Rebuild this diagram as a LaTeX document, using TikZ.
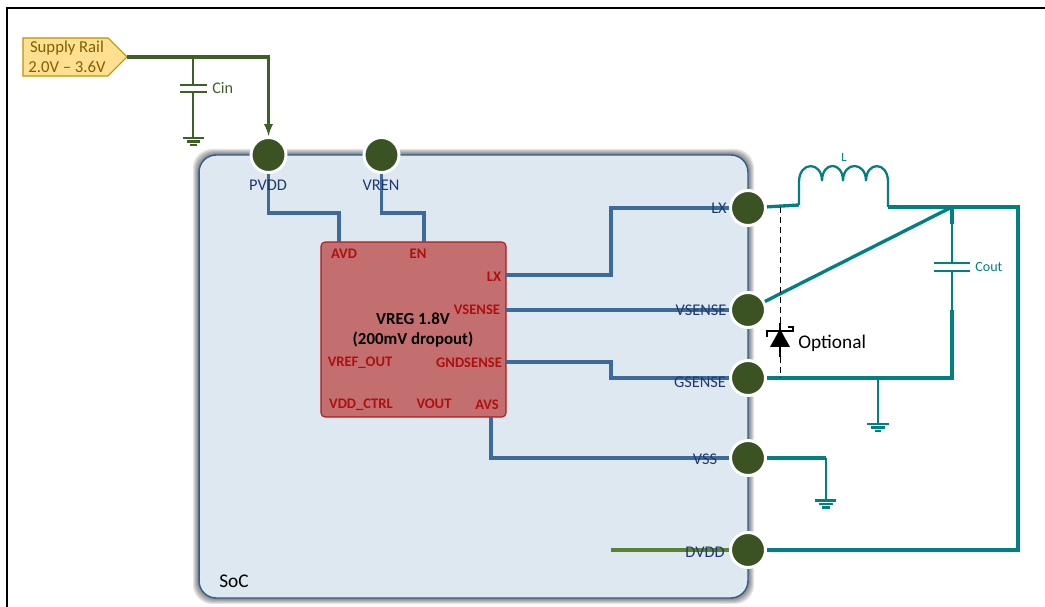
\documentclass[tikz,border=0pt]{standalone}
\usepackage{fontspec}
\setmainfont{Carlito}
\definecolor{pinfill}{HTML}{3B5323}
\definecolor{railgreen}{HTML}{3F5F26}
\definecolor{dvddgreen}{HTML}{5B8232}
\definecolor{wireblue}{HTML}{3C6A9B}
\definecolor{wireteal}{HTML}{008080}
\definecolor{socfill}{HTML}{DEE8F1}
\definecolor{socline}{HTML}{2F5F8F}
\definecolor{pinlabel}{HTML}{1F3A6E}
\definecolor{regfill}{HTML}{C46F6F}
\definecolor{regline}{HTML}{B01818}
\definecolor{regtext}{HTML}{AE1010}
\definecolor{railfill}{HTML}{FFDF90}
\definecolor{railline}{HTML}{BF9000}
\definecolor{railtext}{HTML}{7F6000}
\begin{document}
\begin{tikzpicture}[x=0.02cm,y=-0.02cm]

    \tikzset{pinstyle/.style={draw=white,fill=pinfill,shape=circle,line width=1.7pt,minimum size=0.7cm,inner sep=0pt}}
    \tikzset{pinname/.style={text=pinlabel,font=\fontsize{9.3}{11}\selectfont,inner sep=0pt}}
    \tikzset{regpin/.style={text=regtext,font=\bfseries\fontsize{8.3}{10}\selectfont,inner sep=0pt}}
    \tikzset{bluewire/.style={draw=wireblue,line width=1.9pt}}
    \tikzset{tealwire/.style={draw=wireteal,line width=1.9pt}}
    \tikzset{tealthin/.style={draw=wireteal,line width=1.2pt}}
    \tikzset{greenwire/.style={draw=railgreen,line width=1.9pt}}
    \tikzset{greenthin/.style={draw=railgreen,line width=1.2pt}}

    \useasboundingbox (0,0) rectangle (1045,607);
    \draw[black,line width=1.2pt] (1045,8) -- (7,8) -- (7,607);

    % SoC box with its shadow
    \foreach \d in {6,5,4,3,2,1}
        \fill[black,opacity=0.1,rounded corners=0.38cm] (199-\d,155-\d) rectangle (748+\d,598+\d);
    \node[draw=socline,fill=socfill,line width=0.8pt,rounded corners=0.34cm,minimum width=10.98cm,minimum height=8.86cm,inner sep=0pt] (soc) at (473.5,376.5) {};
    \node[font=\fontsize{11}{13}\selectfont,anchor=west,inner sep=0pt] (socname) at (219,581) {SoC};

    % Regulator
    \node[draw=regline,fill=regfill,line width=0.6pt,rounded corners=0.08cm,minimum width=3.7cm,minimum height=3.5cm,inner sep=0pt] (vreg) at (413.5,329.5) {};
    \node[align=center,font=\bfseries\fontsize{9.6}{11.4}\selectfont,inner sep=0pt] (vregname) at (413,330) {VREG 1.8V\\(200mV dropout)};
    \coordinate (avdin) at (339,242);
    \coordinate (enin) at (424,242);
    \coordinate (lxout) at (506,275);
    \coordinate (vsout) at (506,310);
    \coordinate (gsout) at (506,362);
    \coordinate (avsout) at (491,417);
    \coordinate (dvddend) at (611,550);

    \node[pinstyle] (pvdd) at (268.5,155) {};
    \node[pinstyle] (vren) at (381.5,155) {};
    \node[pinstyle] (lx) at (748,208) {};
    \node[pinstyle] (vsense) at (748,310) {};
    \node[pinstyle] (gsense) at (748,378) {};
    \node[pinstyle] (vss) at (748,458) {};
    \node[pinstyle] (dvdd) at (748,550) {};

    \draw[bluewire] (pvdd) -- (268.5,213) -- (339,213) -- (avdin);
    \draw[bluewire] (vren) -- (381.5,213) -- (424,213) -- (enin);
    \draw[bluewire] (lxout) -- (611,275) -- (611,208) -- (lx);
    \draw[bluewire] (vsout) -- (vsense);
    \draw[bluewire] (gsout) -- (611,362) -- (611,378) -- (gsense);
    \draw[bluewire] (avsout) -- (491,458) -- (vss);
    \draw[draw=dvddgreen,line width=1.9pt] (dvddend) -- (dvdd);

    \node[pinname] (pvddname) at (268,185) {PVDD};
    \node[pinname] (vrenname) at (381,185) {VREN};
    \node[pinname] (lxname) at (719,208) {LX};
    \node[pinname] (vsensename) at (701,310) {VSENSE};
    \node[pinname] (gsensename) at (700,382) {GSENSE};
    \node[pinname] (vssname) at (705,459) {VSS};
    \node[pinname] (dvddname) at (705,552) {DVDD};

    \node[regpin] (avd) at (344,254) {AVD};
    \node[regpin] (en) at (418,254) {EN};
    \node[regpin] (lxpin) at (494,277) {LX};
    \node[regpin] (vsensepin) at (477,310) {VSENSE};
    \node[regpin] (vrefout) at (360,363) {VREF\_OUT};
    \node[regpin] (gndsense) at (469,363) {GNDSENSE};
    \node[regpin] (vddctrl) at (361,405) {VDD\_CTRL};
    \node[regpin] (vout) at (434,404) {VOUT};
    \node[regpin] (avs) at (487,405) {AVS};

    % Supply rail and Cin
    \draw[draw=railline,fill=railfill,line width=0.6pt] (23,38) -- (108,38) -- (127,57) -- (108,76) -- (23,76) -- cycle;
    \coordinate (railtip) at (127,57);
    \node[align=center,text=railtext,font=\fontsize{9.5}{11.2}\selectfont,inner sep=0pt] (railname) at (67,57) {Supply Rail\\2.0V – 3.6V};
    \coordinate (cintop) at (193,57);
    \coordinate (cinplate) at (193,85);
    \coordinate (cinlow) at (193,92);
    \coordinate (cingnd) at (193,138);
    \draw[greenwire] (railtip) -- (268.5,57) -- (268.5,124);
    \draw[draw=railgreen,line width=1.3pt,-latex] (268.5,124) -- (pvdd);
    \draw[greenthin] (cintop) -- (cinplate);
    \draw[greenthin] (cinlow) -- (cingnd);
    \draw[greenthin] (180,85) -- (207,85);
    \draw[greenthin] (180,92) -- (207,92);
    \draw[greenthin] (183,138) -- (204,138);
    \draw[greenthin] (187,141.5) -- (200,141.5);
    \draw[greenthin] (190,145) -- (197,145);
    \node[text=railgreen,font=\fontsize{9.2}{11}\selectfont,anchor=west,inner sep=0pt] (cin) at (212,88) {Cin};

    % Output side
    \coordinate (lstart) at (799,205);
    \coordinate (lend) at (888,207);
    \coordinate (vout1) at (952,207);
    \coordinate (coutup) at (952,263);
    \coordinate (coutlow) at (952,271);
    \coordinate (coutmid) at (952,310);
    \coordinate (gndjoin) at (952,378);
    \coordinate (outcorner) at (1018,207);
    \coordinate (gnda) at (878,378);
    \coordinate (gndb) at (878,423);
    \coordinate (vssgnd) at (826,500);

    \draw[tealwire] (lx) -- (lstart);
    \draw[draw=wireteal,line width=1.3pt] (lstart) -- (799,182)
        .. controls (799,161) and (822,161) .. (822,181)
        .. controls (822,161) and (843,161) .. (843,181)
        .. controls (843,161) and (866,161) .. (866,181)
        .. controls (866,161) and (888,161) .. (888,182) -- (lend);
    \draw[tealwire] (lend) -- (outcorner) -- (1018,550) -- (dvdd);
    \draw[tealwire] (vsense) -- (vout1);
    \draw[tealwire] (vout1) -- (952,224);
    \draw[tealthin] (952,224) -- (coutup);
    \draw[tealthin] (coutlow) -- (coutmid);
    \draw[tealwire] (coutmid) -- (gndjoin) -- (gsense);
    \draw[tealthin] (934,263) -- (970,263);
    \draw[tealthin] (934,271) -- (970,271);
    \node[text=wireteal,font=\fontsize{8}{10}\selectfont,anchor=west,inner sep=0pt] (cout) at (975,267) {Cout};
    \node[text=wireteal,font=\fontsize{7.2}{8}\selectfont,inner sep=0pt] (lname) at (844,157) {L};

    \draw[tealthin] (gnda) -- (gndb);
    \draw[tealthin] (867,424) -- (889,424);
    \draw[tealthin] (871,427.5) -- (885,427.5);
    \draw[tealthin] (875,431) -- (881,431);

    \draw[tealwire] (vss) -- (826,458);
    \draw[tealthin] (826,458) -- (vssgnd);
    \draw[tealthin] (815,500.5) -- (836,500.5);
    \draw[tealthin] (819,504) -- (833,504);
    \draw[tealthin] (822,507.5) -- (830,507.5);

    % Optional diode
    \coordinate (dioA) at (780,207);
    \coordinate (dioB) at (780,378);
    \draw[black,line width=0.5pt,dash pattern=on 3.5pt off 2.2pt] (dioA) -- (dioB);
    \draw[black,line width=1.5pt] (780,323) -- (780,357);
    \fill[black] (780,329) -- (790,347) -- (770,347) -- cycle;
    \draw[black,line width=1pt] (767,337) -- (767,331) -- (793,331) -- (793,327) -- (788,327);
    \node[font=\fontsize{11}{13}\selectfont,anchor=west,inner sep=0pt] (optional) at (798,343) {Optional};

\end{tikzpicture}
\end{document}
